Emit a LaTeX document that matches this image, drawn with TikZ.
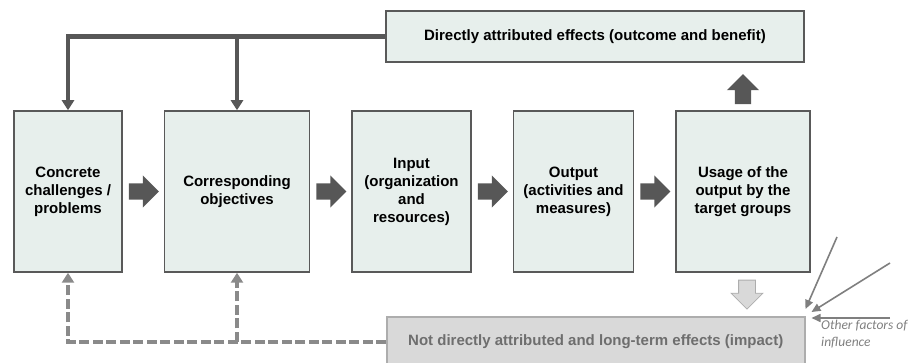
\documentclass[tikz,border=0pt]{standalone}
\usepackage{fontspec}
\setmainfont{Liberation Sans}
\newfontfamily\notefont{Carlito}
\usepackage{tikz}
\usetikzlibrary{positioning,calc,arrows.meta,shapes.arrows}

\definecolor{boxfill}{HTML}{E7EFEC}
\definecolor{boxline}{HTML}{595959}
\definecolor{darkgray}{HTML}{575757}
\definecolor{dashgray}{HTML}{8A8A8A}
\definecolor{impactfill}{HTML}{D9D9D9}
\definecolor{impactline}{HTML}{ADADAD}
\definecolor{impacttext}{HTML}{6E6E6E}
\definecolor{notegray}{HTML}{7F7F7F}

\tikzset{
  stagebox/.style={draw=boxline, line width=1.5pt, fill=boxfill, align=center,
    minimum height=161pt, inner sep=2pt,
    font=\bfseries\fontsize{15}{18}\selectfont},
  blockarrow/.style={single arrow, draw=none, fill=darkgray, inner xsep=0pt, inner ysep=8pt,
    minimum width=32pt, minimum height=30pt, single arrow head extend=8pt},
  lightarrow/.style={single arrow, draw=impactline, line width=0.8pt, fill=impactfill,
    inner xsep=0pt, inner ysep=8pt, minimum width=31pt, minimum height=29pt,
    single arrow head extend=7.5pt},
  feedback/.style={draw=darkgray, line width=4.5pt, -{Triangle[width=12pt,length=10pt]}},
  longterm/.style={draw=dashgray, line width=4.5pt, dash pattern=on 10pt off 3.5pt,
    -{Triangle[width=12pt,length=10pt]}},
  influence/.style={draw=notegray, line width=1.6pt, -{Triangle[width=8pt,length=9pt]}}
}

\begin{document}
\begin{tikzpicture}[x=1pt,y=-1pt]

\useasboundingbox (0,0) rectangle (918,363);

% the five stages
\node[stagebox, minimum width=108pt] (chal) at (68,191.5) {Concrete\\challenges /\\problems};
\node[stagebox, minimum width=145pt, right=41pt of chal] (obj) {Corresponding\\objectives};
\node[stagebox, minimum width=119pt, right=41pt of obj] (input) {Input\\(organization\\and\\resources)};
\node[stagebox, minimum width=120pt, right=41pt of input] (output) {Output\\(activities and\\measures)};
\node[stagebox, minimum width=134pt, right=41pt of output] (use) {Usage of the\\output by the\\target groups};

% effects
\node[stagebox, minimum width=418pt, minimum height=51pt] (effect) at (595,36.5)
  {Directly attributed effects (outcome and benefit)};
\node[draw=impactline, line width=1.5pt, fill=impactfill, text=impacttext,
  minimum width=418pt, minimum height=50pt, anchor=north west,
  font=\bfseries\fontsize{15}{18}\selectfont] (impact) at (386,316)
  {Not directly attributed and long-term effects (impact)};

% block arrows between stages
\node[blockarrow, right=6pt of chal] (a1) {};
\node[blockarrow, right=6pt of obj] (a2) {};
\node[blockarrow, right=6pt of input] (a3) {};
\node[blockarrow, right=6pt of output] (a4) {};
\node[blockarrow, rotate=90, anchor=tail] (up) at ($(use.north)+(0,-6)$) {};
\node[lightarrow, rotate=-90, anchor=tail] (down) at ($(use.south)+(4,7)$) {};

% feedback lines
\draw[feedback] (effect.west) -| (chal.north);
\draw[feedback] (effect.west -| obj.north) -- (obj.north);
\draw[longterm] (impact.west) -| (chal.south);
\draw[longterm] (impact.west -| obj.south) -- (obj.south);

% other factors
\node[anchor=north west, text=notegray, align=left, inner sep=0pt,
  font=\notefont\itshape\fontsize{13.5}{17}\selectfont] (factors) at (821,319.5)
  {Other factors of\\influence};
\coordinate (f1) at (837,237);
\coordinate (f2) at (890,263);
\coordinate (f3) at (890,318);
\draw[influence] (f1) -- ($(impact.north east)+(0,-7)$);
\draw[influence] (f2) -- ($(impact.north east)+(6,-4)$);
\draw[influence] (f3) -- ($(impact.north east)+(6,2)$);

\end{tikzpicture}
\end{document}
